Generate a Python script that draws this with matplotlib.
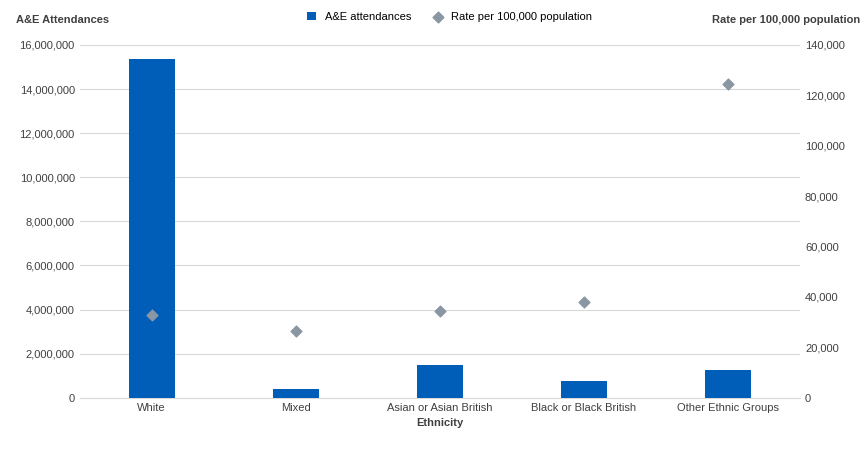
import matplotlib
matplotlib.use("Agg")
import matplotlib.pyplot as plt
from matplotlib.ticker import FuncFormatter
import numpy as np

categories = ["White", "Mixed", "Asian or Asian British", "Black or Black British", "Other Ethnic Groups"]
attendances = [15350000, 380000, 1470000, 780000, 1280000]
rates = [32900, 26600, 34500, 38100, 124500]

plt.rcParams['font.family'] = ['Liberation Sans', 'DejaVu Sans']
plt.rcParams['font.size'] = 8

fig = plt.figure(figsize=(8.65, 4.49), dpi=100)
ax = fig.add_axes([0.092, 0.114, 0.833, 0.786])
ax2 = ax.twinx()
x = np.arange(len(categories))
b = ax.bar(x, attendances, width=0.32, color="#005EB8", label="A&E attendances", zorder=3)
s = ax2.scatter(x, rates, marker="D", s=30, color="#8A96A3", label="Rate per 100,000 population", zorder=4)
ax.set_ylim(0, 16000000)
ax.set_yticks(np.arange(0, 16000001, 2000000))
ax2.set_ylim(0, 140000)
ax2.set_yticks(np.arange(0, 140001, 20000))
fmt = FuncFormatter(lambda v, p: f"{int(v):,}")
ax.yaxis.set_major_formatter(fmt)
ax2.yaxis.set_major_formatter(fmt)
ax.set_xticks(x)
ax.set_xticklabels(categories)
ax.set_xlim(-0.5, len(categories) - 0.5)
ax.grid(axis="y", color="#D9D9D9", lw=0.8, zorder=0)
for a in (ax, ax2):
    for sp in a.spines.values():
        sp.set_visible(False)
    a.tick_params(length=0, colors="#404040")
ax.spines["bottom"].set_visible(True)
ax.spines["bottom"].set_color("#D9D9D9")
ax.set_xlabel("Ethnicity", fontweight="bold", color="#404040")
fig.text(0.018, 0.955, "A&E Attendances", fontweight="bold", color="#404040", va="center")
fig.text(0.995, 0.955, "Rate per 100,000 population", fontweight="bold", color="#404040", va="center", ha="right")
fig.legend(handles=[b, s], loc="center", bbox_to_anchor=(0.52, 0.962), ncol=2, frameon=False, handlelength=0.8, columnspacing=2)
fig.savefig("out.png", dpi=100)
